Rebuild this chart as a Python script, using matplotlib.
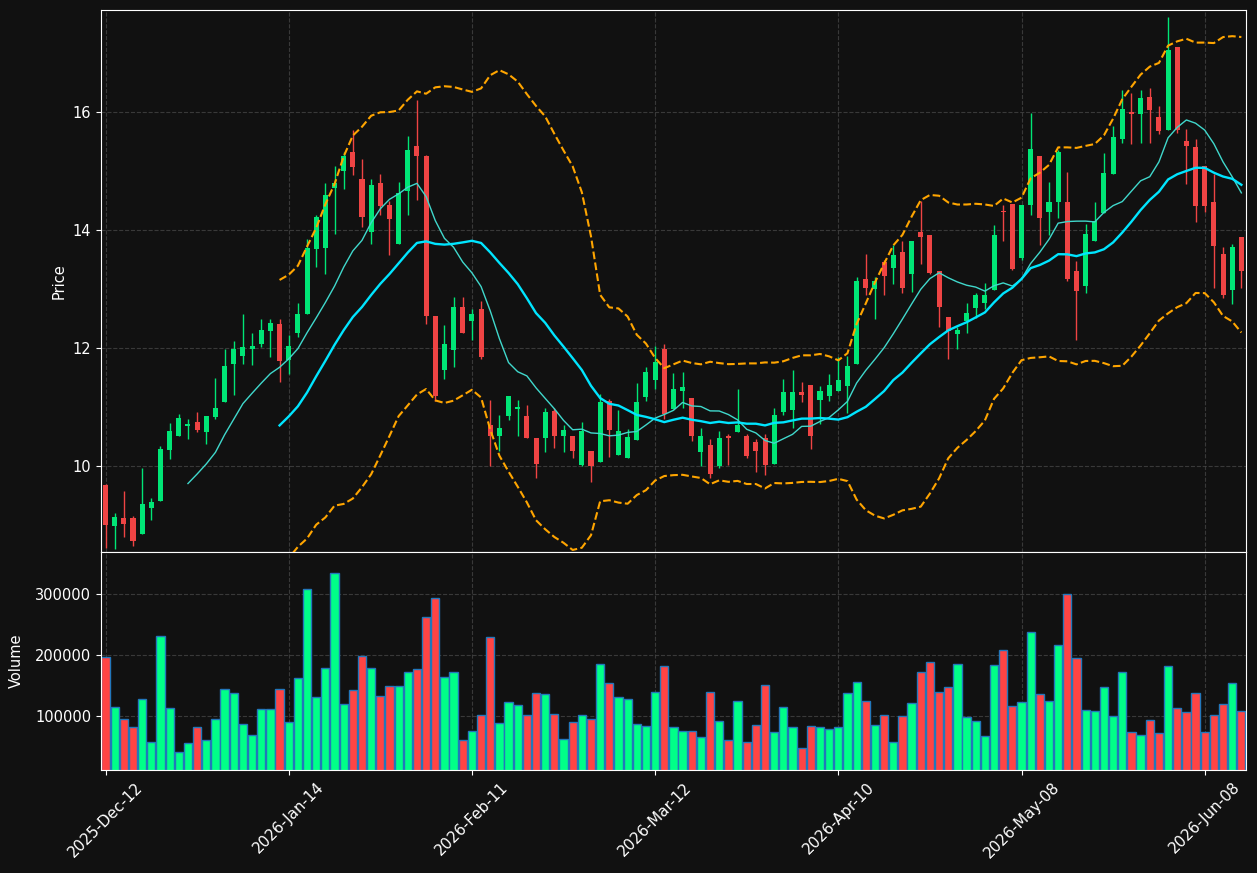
import numpy as np
import pandas as pd
import matplotlib
matplotlib.use("Agg")
import matplotlib.pyplot as plt

# daily OHLC (125 sessions)
opens = [9.68, 8.98, 9.11, 9.11, 8.84, 9.29, 9.41, 10.27, 10.50, 10.68,
         10.75, 10.58, 10.83, 11.08, 11.72, 11.86, 11.98, 12.06, 12.29, 12.41,
         11.80, 12.25, 12.58, 13.67, 13.69, 14.71, 15.00, 15.32, 14.86, 13.96,
         14.79, 14.42, 13.76, 14.66, 15.43, 15.26, 12.55, 11.63, 11.97, 12.70,
         12.45, 12.66, 10.70, 10.50, 10.84, 10.97, 10.85, 10.47, 10.47, 10.93,
         10.51, 10.51, 10.02, 10.26, 10.06, 11.10, 10.19, 10.13, 10.44, 11.16,
         11.46, 11.99, 10.96, 11.27, 11.15, 10.24, 10.36, 10.00, 10.50, 10.57,
         10.51, 10.41, 10.48, 10.04, 10.92, 10.95, 11.26, 11.38, 11.12, 11.18,
         11.27, 11.35, 11.73, 13.17, 13.00, 13.46, 13.35, 13.63, 13.26, 13.97,
         13.92, 13.30, 12.53, 12.24, 12.46, 12.67, 12.77, 12.99, 14.33, 14.44,
         13.52, 14.42, 15.26, 14.30, 14.48, 14.47, 13.31, 13.05, 13.81, 14.29,
         14.95, 15.55, 16.00, 15.97, 16.25, 15.92, 15.69, 17.10, 15.51, 15.40,
         15.08, 14.47, 13.59, 12.98, 13.88]
highs = [9.70, 9.20, 9.58, 9.15, 9.97, 9.45, 10.33, 10.73, 10.88, 10.79,
         10.92, 10.85, 11.49, 11.98, 12.11, 12.58, 12.25, 12.49, 12.49, 12.49,
         12.22, 12.76, 13.85, 14.26, 14.80, 15.09, 15.32, 15.70, 15.21, 14.87,
         14.95, 14.50, 14.81, 15.60, 16.21, 15.27, 12.55, 12.39, 12.87, 12.87,
         12.66, 12.80, 11.12, 10.86, 11.19, 11.12, 11.03, 10.47, 10.98, 10.99,
         10.69, 10.51, 10.75, 10.26, 11.22, 11.13, 10.95, 10.62, 11.40, 11.68,
         12.04, 12.07, 11.57, 11.60, 11.15, 10.65, 10.45, 10.60, 10.54, 11.30,
         10.54, 10.45, 10.54, 10.98, 11.47, 11.63, 11.43, 11.38, 11.36, 11.55,
         11.85, 11.87, 13.20, 13.59, 13.20, 13.49, 13.74, 13.82, 13.82, 14.49,
         13.92, 13.30, 12.53, 12.35, 12.76, 12.94, 13.10, 14.09, 14.43, 14.44,
         14.43, 15.99, 15.26, 14.81, 15.35, 14.98, 13.48, 14.11, 14.48, 15.31,
         15.76, 16.37, 16.33, 16.38, 16.40, 16.11, 17.61, 17.10, 15.71, 15.54,
         15.08, 14.95, 13.72, 13.77, 13.88]
lows = [8.61, 8.59, 8.80, 8.64, 8.84, 9.08, 9.40, 10.11, 10.50, 10.45,
        10.57, 10.37, 10.79, 11.08, 11.20, 11.73, 11.71, 12.02, 11.84, 11.43,
        11.56, 12.18, 12.57, 13.37, 13.26, 13.93, 14.70, 14.94, 14.05, 13.76,
        14.26, 13.58, 13.76, 14.26, 14.51, 12.41, 11.10, 11.48, 11.68, 12.26,
        12.13, 11.82, 10.00, 10.26, 10.78, 10.51, 10.48, 9.80, 10.24, 10.31,
        10.24, 10.13, 10.00, 9.72, 10.06, 10.15, 10.19, 10.13, 10.44, 11.10,
        11.30, 10.79, 10.96, 10.99, 10.43, 10.00, 9.80, 9.96, 10.01, 10.57,
        10.13, 9.89, 9.84, 10.04, 10.87, 10.64, 11.09, 10.28, 10.71, 11.10,
        11.27, 10.90, 11.73, 12.89, 12.49, 12.89, 13.09, 12.93, 12.95, 13.43,
        13.25, 12.35, 11.81, 11.98, 12.25, 12.50, 12.66, 12.98, 13.82, 13.32,
        13.49, 14.26, 13.74, 13.91, 14.21, 13.13, 12.13, 12.94, 13.81, 14.29,
        14.95, 15.48, 15.45, 15.48, 15.48, 15.63, 15.69, 15.65, 14.78, 14.14,
        14.30, 13.02, 12.84, 12.74, 13.01]
closes = [9.00, 9.14, 9.02, 8.72, 9.35, 9.38, 10.28, 10.60, 10.81, 10.71,
          10.61, 10.85, 10.99, 11.70, 11.99, 12.02, 12.04, 12.31, 12.43, 11.78,
          12.04, 12.58, 13.69, 14.22, 14.60, 14.79, 15.26, 15.07, 14.22, 14.77,
          14.40, 14.18, 14.62, 15.35, 15.25, 12.55, 11.19, 12.06, 12.70, 12.26,
          12.58, 11.85, 10.50, 10.64, 11.19, 11.00, 10.48, 10.03, 10.92, 10.50,
          10.61, 10.26, 10.60, 10.00, 11.09, 10.61, 10.60, 10.49, 11.08, 11.60,
          11.77, 10.88, 11.30, 11.34, 10.50, 10.51, 9.86, 10.47, 10.48, 10.70,
          10.17, 10.26, 10.02, 10.87, 11.26, 11.26, 11.21, 10.51, 11.27, 11.38,
          11.46, 11.70, 13.14, 13.01, 13.14, 13.22, 13.57, 13.01, 13.82, 13.88,
          13.27, 12.69, 12.29, 12.30, 12.59, 12.90, 12.89, 13.92, 14.30, 13.34,
          14.43, 15.37, 14.20, 14.48, 15.33, 13.17, 12.96, 13.93, 14.16, 14.96,
          15.58, 16.05, 15.97, 16.23, 16.03, 15.68, 17.05, 15.69, 15.42, 14.41,
          14.41, 13.73, 12.90, 13.71, 13.30]
volumes = [196700, 114800, 95100, 82000, 127900, 57400, 231100, 113100, 41000, 55700,
           82000, 60700, 95100, 144300, 137700, 86900, 68900, 111500, 111500, 144300,
           90200, 162300, 308200, 131100, 178700, 334400, 119700, 142600, 197800, 178700,
           132800, 149200, 149200, 172100, 177000, 262300, 293400, 163900, 172100, 60700,
           75400, 101600, 229500, 88500, 123000, 118000, 101600, 137700, 136100, 103300,
           63400, 90200, 101600, 95100, 185200, 154100, 131100, 127900, 86900, 83600,
           139300, 182000, 82000, 75400, 75400, 65600, 139300, 91800, 60700, 124600,
           57400, 85200, 150800, 73800, 114800, 82000, 47500, 83600, 82000, 78700,
           82000, 137700, 155700, 124600, 85200, 101600, 57400, 100000, 121300, 172100,
           188500, 139300, 147500, 185200, 98400, 91800, 67200, 183600, 208200, 116400,
           123000, 237700, 136100, 124600, 216400, 300000, 195100, 109800, 108200, 147500,
           100000, 172100, 73800, 68900, 93400, 72100, 182000, 113100, 106600, 137700,
           73800, 101600, 119700, 154100, 108200]
tick_labels = ["2025-Dec-12", "2026-Jan-14", "2026-Feb-11", "2026-Mar-12",
               "2026-Apr-10", "2026-May-08", "2026-Jun-08"]

df = pd.DataFrame({"open": opens, "high": highs, "low": lows,
                   "close": closes, "volume": volumes})
n = len(df)
x = np.arange(n)
df["ma10"] = df["close"].rolling(10).mean()
df["ma20"] = df["close"].rolling(20).mean()
std20 = df["close"].rolling(20).std()
df["bb_up"] = df["ma20"] + 2 * std20
df["bb_dn"] = df["ma20"] - 2 * std20

bg = "#111111"
up_c, dn_c = "#00e676", "#ef4444"
vol_up, vol_dn = "#00ff88", "#ff4444"

fig = plt.figure(figsize=(12.57, 8.73), dpi=100, facecolor=bg)
ax = fig.add_axes([0.0803, 0.3677, 0.9109, 0.6208])
axv = fig.add_axes([0.0803, 0.1180, 0.9109, 0.2497], sharex=ax)

up = df["close"] >= df["open"]
cols = np.where(up, up_c, dn_c)
ax.vlines(x, df["low"], df["high"], colors=cols, linewidth=1, zorder=2)
body_bottom = np.minimum(df["open"], df["close"])
body_h = np.maximum((df["close"] - df["open"]).abs(), 0.02)
ax.bar(x, body_h, bottom=body_bottom, width=0.55, color=cols, zorder=3)

ax.plot(x, df["ma10"], color="#40d8cc", linewidth=1, zorder=4)
ax.plot(x, df["ma20"], color="#00e5ff", linewidth=1.7, zorder=4)
ax.plot(x, df["bb_up"], color="#ffa500", linestyle="--", linewidth=1.5, zorder=4)
ax.plot(x, df["bb_dn"], color="#ffa500", linestyle="--", linewidth=1.5, zorder=4)

vcols = np.where(up, vol_up, vol_dn)
axv.bar(x, df["volume"], width=0.9, color=vcols, edgecolor="#2277bb", linewidth=1)

ax.set_ylim(8.54, 17.73)
axv.set_ylim(df["volume"].min() * 0.3, df["volume"].max() * 1.1)
ax.set_xlim(-0.5, n - 0.5)
ax.set_yticks([10, 12, 14, 16])

for a in (ax, axv):
    a.set_facecolor(bg)
    a.grid(True, color="#444444", linestyle="--", linewidth=0.8, alpha=0.8)
    a.set_axisbelow(True)
    for s in a.spines.values():
        s.set_color("white")
    a.tick_params(colors="white", labelsize=10.5)

ax.set_ylabel("Price", color="white", fontsize=10.5)
axv.set_ylabel("Volume", color="white", fontsize=10.5, labelpad=8)
ax.tick_params(labelbottom=False)
axv.set_xticks(x[::20])
axv.set_xticklabels(tick_labels, rotation=45, fontsize=11)

fig.savefig("out.png", dpi=100, facecolor=bg)
